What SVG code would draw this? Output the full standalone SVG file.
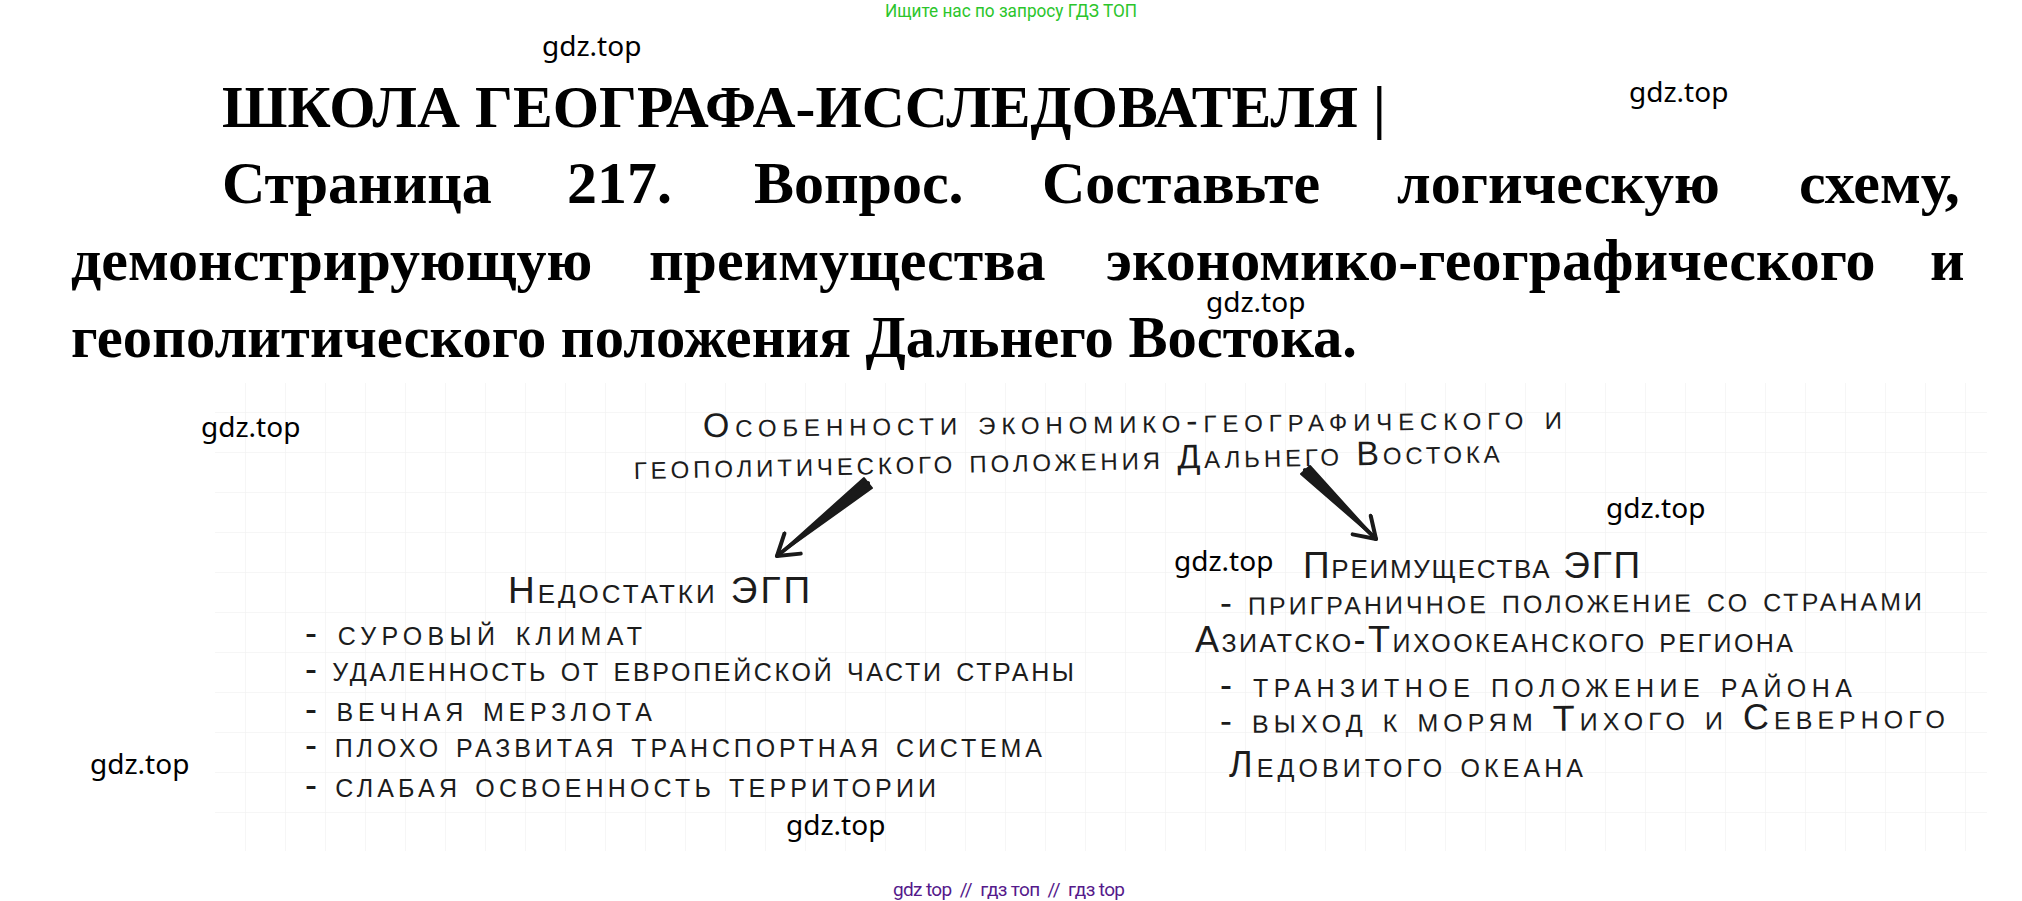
<svg xmlns="http://www.w3.org/2000/svg" width="2022" height="901" viewBox="0 0 2022 901">
<style>
  .hdr { font-family: "Liberation Serif", "Times New Roman", serif; font-weight: bold; font-size: 60px; fill: #000; }
  .wm { font-family: "Noto Sans", Roboto, sans-serif; font-size: 28px; fill: #000; }
  .hand { font-family: "Liberation Sans", Arial, sans-serif; font-variant: small-caps; fill: #1c1c1c; }
  .t34 { font-size: 34px; }
  .t38 { font-size: 37px; }
  .t36 { font-size: 36px; }
  .grid { stroke: #eeeeee; stroke-width: 1; }
  .arrow { fill: #1a1a1a; stroke: #1a1a1a; stroke-width: 2; stroke-linejoin: round; }
  .shaft { fill: none; stroke: #1a1a1a; stroke-width: 4; stroke-linecap: round; }
</style>
<defs>
  <pattern id="gridp" x="5" y="12" width="40" height="40" patternUnits="userSpaceOnUse">
    <path d="M40 0 L0 0 L0 40" fill="none" class="grid"/>
  </pattern>
  <marker id="ah" markerUnits="userSpaceOnUse" markerWidth="30" markerHeight="30" viewBox="-25 -15 30 30" refX="0" refY="0" orient="auto">
    <path d="M-20,-13 L0,0 L-20,13" fill="none" stroke="#1a1a1a" stroke-width="4" stroke-linecap="round" stroke-linejoin="round"/>
  </marker>
</defs>
<rect width="2022" height="901" fill="#ffffff"/>
<rect x="215" y="383" width="1772" height="468" fill="url(#gridp)"/>

<g id="header">
  <text x="1011" y="17" text-anchor="middle" font-family="Roboto, 'Noto Sans', sans-serif" font-size="17.5" fill="#2bc52b" textLength="252" lengthAdjust="spacingAndGlyphs">Ищите нас по запросу ГДЗ ТОП</text>
  <text class="hdr" x="222" y="127" textLength="1164" lengthAdjust="spacingAndGlyphs">ШКОЛА ГЕОГРАФА-ИССЛЕДОВАТЕЛЯ |</text>
  <text class="hdr" y="203"><tspan x="222">Страница</tspan><tspan x="567">217.</tspan><tspan x="754">Вопрос.</tspan><tspan x="1042">Составьте</tspan><tspan x="1397">логическую</tspan><tspan x="1799">схему,</tspan></text>
  <text class="hdr" y="280"><tspan x="71">демонстрирующую</tspan><tspan x="649">преимущества</tspan><tspan x="1106">экономико-географического</tspan><tspan x="1930">и</tspan></text>
  <text class="hdr" x="71" y="357" textLength="1286" lengthAdjust="spacingAndGlyphs">геополитического положения Дальнего Востока.</text>
</g>

<g id="node-title">
  <text class="hand t34" x="703" y="437" textLength="859" lengthAdjust="spacing" transform="rotate(-0.55 703 437)">Особенности экономико-географического и</text>
  <text class="hand t34" x="634" y="479" textLength="866" lengthAdjust="spacing" transform="rotate(-1.1 634 479)">геополитического положения Дальнего Востока</text>
</g>

<g id="node-disadvantages">
  <text class="hand t38" x="508" y="603" textLength="302" lengthAdjust="spacing">Недостатки ЭГП</text>
  <text class="hand t36" x="305" y="645" textLength="337" lengthAdjust="spacing">- суровый климат</text>
  <text class="hand t36" x="305" y="681" textLength="769" lengthAdjust="spacing">- удаленность от европейской части страны</text>
  <text class="hand t36" x="305" y="721" textLength="347" lengthAdjust="spacing">- вечная мерзлота</text>
  <text class="hand t36" x="305" y="757" textLength="737" lengthAdjust="spacing">- плохо развитая транспортная система</text>
  <text class="hand t36" x="305" y="797" textLength="631" lengthAdjust="spacing">- слабая освоенность территории</text>
</g>

<g id="node-advantages">
  <text class="hand t38" x="1303" y="578" textLength="337" lengthAdjust="spacing">Преимущества ЭГП</text>
  <text class="hand t36" x="1220" y="615" textLength="702" lengthAdjust="spacing" transform="rotate(-0.4 1220 615)">- приграничное положение со странами</text>
  <text class="hand t36" x="1195" y="652" textLength="598" lengthAdjust="spacing">Азиатско-Тихоокеанского региона</text>
  <text class="hand t36" x="1220" y="697" textLength="632" lengthAdjust="spacing">- транзитное положение района</text>
  <text class="hand t36" x="1220" y="733" textLength="725" lengthAdjust="spacing" transform="rotate(-0.4 1220 733)">- выход к морям Тихого и Северного</text>
  <text class="hand t36" x="1229" y="777" textLength="354" lengthAdjust="spacing">Ледовитого океана</text>
</g>

<g id="connectors">
  <polygon class="arrow" points="872,488 864,478 777,556"/>
  <path class="shaft" d="M868,483 L777,556" marker-end="url(#ah)"/>
  <polygon class="arrow" points="1301,474 1310,466 1376,539"/>
  <path class="shaft" d="M1305,470 L1376,539" marker-end="url(#ah)"/>
</g>

<g id="watermarks">
  <text class="wm" x="542" y="56">gdz.top</text>
  <text class="wm" x="1629" y="102">gdz.top</text>
  <text class="wm" x="1206" y="312">gdz.top</text>
  <text class="wm" x="201" y="437">gdz.top</text>
  <text class="wm" x="1606" y="518">gdz.top</text>
  <text class="wm" x="1174" y="571">gdz.top</text>
  <text class="wm" x="90" y="774">gdz.top</text>
  <text class="wm" x="786" y="835">gdz.top</text>
  <text x="1009" y="896" text-anchor="middle" font-family="Roboto, 'Noto Sans', sans-serif" font-size="19" fill="#551a8b" textLength="232" lengthAdjust="spacing" xml:space="preserve">gdz top  //  гдз топ  //  гдз top</text>
</g>
</svg>
